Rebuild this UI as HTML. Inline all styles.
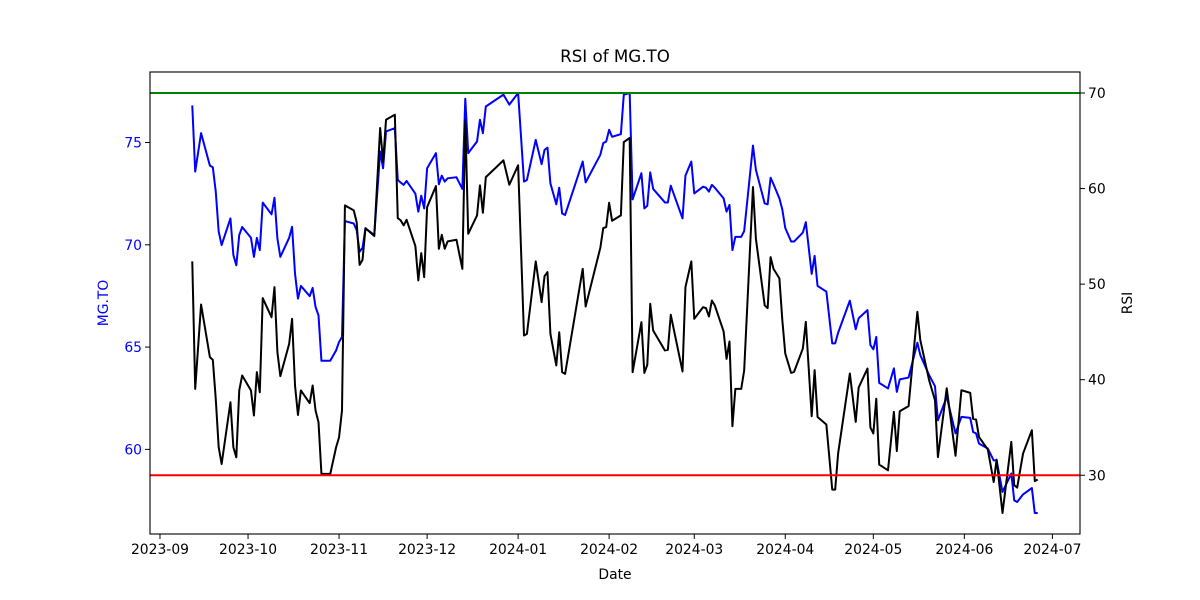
<!DOCTYPE html>
<html><head><meta charset="utf-8"><style>
html,body{margin:0;padding:0;background:#fff;}
svg{display:block;font-family:"DejaVu Sans","Liberation Sans",sans-serif;}
</style></head><body>
<svg id="chart" width="1200" height="600" xmlns="http://www.w3.org/2000/svg">
<rect width="1200" height="600" fill="#fff"/>
<text x="615" y="62" font-size="16.7" text-anchor="middle">RSI of MG.TO</text>
<text x="615" y="579" font-size="13.9" text-anchor="middle">Date</text>
<text x="108" y="303" font-size="13.9" fill="#0000ff" text-anchor="middle" transform="rotate(-90 108 303)">MG.TO</text>
<text x="1132" y="303" font-size="13.9" text-anchor="middle" transform="rotate(-90 1132 303)">RSI</text>
<g id="plot"></g>
</svg>
<script>
const baseDate = "2023-09-01";
const days = [11,12,14,17,18,19,20,21,24,25,26,27,28,31,32,33,34,35,38,39,40,41,44,45,46,47,48,51,52,53,54,55,58,60,61,62,63,66,67,68,69,70,73,75,76,77,80,81,82,83,84,87,88,89,90,91,94,95,96,97,98,101,103,104,105,108,109,110,111,117,119,122,124,125,128,130,131,132,133,135,136,137,138,144,145,150,151,152,153,154,157,158,160,161,164,165,166,167,168,172,173,174,178,179,181,182,185,186,187,188,189,192,193,194,195,196,198,199,202,203,206,207,208,209,211,212,213,215,216,219,220,222,223,224,227,229,230,231,235,237,238,241,242,243,244,245,248,250,251,252,255,258,259,262,264,265,268,271,273,276,277,278,279,282,284,285,287,290,291,292,294,297,298,299];
const price = [76.81,73.58,75.46,73.87,73.79,72.60,70.64,69.99,71.29,69.50,69.00,70.48,70.87,70.34,69.41,70.34,69.74,72.06,71.49,72.30,70.31,69.41,70.34,70.88,68.59,67.37,67.99,67.49,67.89,66.96,66.55,64.33,64.33,64.84,65.25,65.49,71.16,71.04,70.72,69.66,69.85,70.80,70.48,74.56,73.74,75.54,75.70,73.17,73.04,72.93,73.12,72.50,71.62,72.40,71.78,73.74,74.48,72.96,73.38,73.09,73.25,73.30,72.73,77.14,74.48,75.05,76.11,75.46,76.76,77.34,76.85,77.42,73.09,73.17,75.13,73.94,74.64,74.75,73.00,71.98,72.79,71.53,71.46,74.07,73.05,74.40,74.97,75.05,75.62,75.28,75.41,77.34,77.42,72.22,73.50,71.78,71.91,73.54,72.73,72.07,72.07,72.89,71.29,73.38,74.07,72.51,72.84,72.79,72.60,72.93,72.79,72.27,71.62,71.95,69.74,70.39,70.39,70.67,74.85,73.66,72.02,71.98,73.28,72.96,72.27,71.72,70.82,70.16,70.16,70.60,71.11,68.58,69.46,67.99,67.71,65.18,65.18,65.70,67.27,65.87,66.41,66.81,65.10,64.89,65.50,63.25,62.98,63.96,62.81,63.42,63.51,65.21,64.61,63.63,63.09,61.42,62.57,60.78,61.59,61.54,60.85,60.78,60.28,60.04,59.46,59.46,57.92,58.82,57.51,57.43,57.80,58.11,56.89,56.89];
const rsi = [52.38,39.04,47.87,42.36,42.07,37.99,32.93,31.18,37.64,32.93,31.88,38.87,40.44,38.87,36.25,40.79,38.69,48.53,46.54,49.69,42.88,40.37,43.75,46.37,39.39,36.31,38.87,37.54,39.39,36.77,35.55,30.14,30.14,32.93,33.98,36.77,58.24,57.72,56.49,52.02,52.54,55.86,55.03,66.34,62.77,67.20,67.73,56.91,56.67,56.15,56.73,53.98,50.39,53.25,50.73,58.06,60.26,53.70,55.16,53.70,54.47,54.64,51.60,67.14,55.27,57.19,60.33,57.47,61.20,62.95,60.40,62.43,44.63,44.80,52.38,48.12,50.84,51.26,44.80,41.49,44.97,40.79,40.61,51.60,47.66,53.80,55.86,55.97,58.51,56.63,57.19,64.87,65.29,40.79,46.02,40.71,41.55,47.94,45.15,43.06,43.12,46.79,40.86,49.69,52.38,46.37,47.59,47.49,46.62,48.29,47.77,45.05,42.18,44.00,35.13,39.04,39.04,40.96,60.16,54.74,47.77,47.49,52.83,51.60,50.60,46.23,42.74,40.71,40.82,43.27,46.05,36.18,41.00,36.10,35.31,28.50,28.50,32.27,40.65,35.58,39.18,41.17,35.00,34.37,38.01,31.12,30.52,36.63,32.53,36.70,37.23,47.10,44.14,39.95,37.85,31.90,39.11,32.04,38.90,38.62,35.90,35.83,34.01,32.69,29.30,31.64,26.05,33.49,28.95,28.71,32.27,34.71,29.39,29.56];
const rsiLevels = [70, 30];
const xTickLabels = ["2023-09","2023-10","2023-11","2023-12","2024-01","2024-02","2024-03","2024-04","2024-05","2024-06","2024-07"];
const xTickDays = [0,30,61,91,122,153,182,213,243,274,304];
const leftTicks = [60,65,70,75];
const rightTicks = [30,40,50,60,70];

const L=150,R=1080,T=72,B=534;
const NS="http://www.w3.org/2000/svg";
function lim(vals){const mn=Math.min(...vals),mx=Math.max(...vals),m=(mx-mn)*0.05;return [mn-m,mx+m];}
const xl=lim(days), yl=lim(price), rl=lim(rsi.concat(rsiLevels));
const sx=d=>L+(d-xl[0])/(xl[1]-xl[0])*(R-L);
const sy=v=>B-(v-yl[0])/(yl[1]-yl[0])*(B-T);
const sr=v=>B-(v-rl[0])/(rl[1]-rl[0])*(B-T);
const g=document.getElementById('plot');
function mk(tag,attrs,parent){const e=document.createElementNS(NS,tag);for(const k in attrs)e.setAttribute(k,attrs[k]);(parent||g).appendChild(e);return e;}

const cp=mk('clipPath',{id:'clip'});mk('rect',{x:L,y:T,width:R-L,height:B-T},cp);

let e=mk('polyline',{points:days.map((d,i)=>sx(d)+','+sy(price[i])).join(' '),fill:'none',stroke:'#0000ff','stroke-width':2,'stroke-linejoin':'round','clip-path':'url(#clip)'});


e=mk('polyline',{points:days.map((d,i)=>sx(d)+','+sr(rsi[i])).join(' '),fill:'none',stroke:'#000','stroke-width':2,'stroke-linejoin':'round','clip-path':'url(#clip)'});


rsiLevels.forEach((lv,i)=>{
  const ln=mk('line',{x1:L,x2:R,y1:sr(lv),y2:sr(lv),stroke:i===0?'#008000':'#ff0000','stroke-width':2});
  
  
});
const fr=mk('rect',{x:L,y:T,width:R-L,height:B-T,fill:'none',stroke:'#000','stroke-width':1.1});



xTickDays.forEach((d,i)=>{
  const x=sx(d);
  mk('line',{x1:x,x2:x,y1:B,y2:B+5,stroke:'#000','stroke-width':1});
  const t=mk('text',{x:x,y:B+20,'font-size':13.9,'text-anchor':'middle'});t.textContent=xTickLabels[i];
  
  
});
leftTicks.forEach(v=>{
  const y=sy(v);
  mk('line',{x1:L-5,x2:L,y1:y,y2:y,stroke:'#000','stroke-width':1});
  const t=mk('text',{x:L-8,y:y+5,'font-size':13.9,'text-anchor':'end',fill:'#0000ff'});t.textContent=v;
  
  
});
rightTicks.forEach(v=>{
  const y=sr(v);
  mk('line',{x1:R,x2:R+5,y1:y,y2:y,stroke:'#000','stroke-width':1});
  const t=mk('text',{x:R+8,y:y+5,'font-size':13.9,'text-anchor':'start'});t.textContent=v;
  
  
});
</script>
</body></html>
